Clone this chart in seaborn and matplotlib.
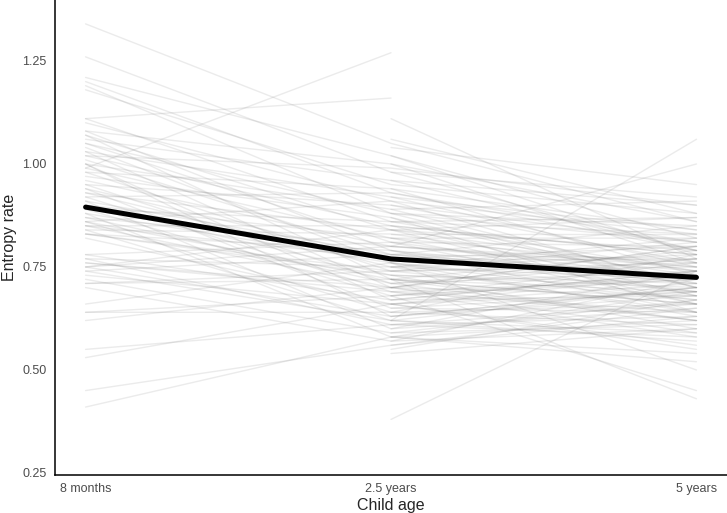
import matplotlib
matplotlib.use("Agg")
import matplotlib.pyplot as plt
import pandas as pd
import seaborn as sns

# Child age categories
age_labels = ["8 months", "2.5 years", "5 years"]

# Children seen at 8 months (and later visits), None = no visit
ent_8m_a = [1.34, 1.26, 1.21, 1.20, 1.19, 1.18, 1.11, 1.11, 1.10, 1.08,
            1.08, 1.07, 1.07, 1.06, 1.05, 1.05, 1.04, 1.03, 1.03, 1.02,
            1.02, 1.01, 1.00, 1.00, 0.99, 0.99, 0.98, 0.98, 0.97, 1.00,
            0.96, 0.95, 0.95, 0.94, 0.94, 0.93, 0.93, 0.92, 0.92, 0.91,
            0.91, 0.90, 0.90, 0.89, 0.89, 0.88, 0.88, 0.87, 0.87, 0.86,
            0.86, 0.85, 0.85, 0.84, 0.84, 0.83, 0.83, 0.82, 0.86, 0.85,
            0.83, 0.78, 0.78, 0.77, 0.77, 0.76, 0.75, 0.75, 0.74, 0.73,
            0.72, 0.71, 0.76, 0.75, 0.74, 0.71, 0.70, 0.64, 0.66, 0.64,
            0.62, 0.55, 0.53, 0.45, 0.41]
ent_2y_a = [1.05, 0.98, 1.02, 0.93, 0.88, 0.95, 1.16, 0.86, 0.91, 0.79,
            1.00, 0.84, 0.72, 0.96, 0.81, 0.88, 0.76, 0.92, 0.70, 0.85,
            0.99, 0.78, 0.89, 0.67, 1.27, 0.82, 0.74, 0.94, 0.87, 0.63,
            0.80, 0.71, 0.90, 0.77, 0.65, 0.84, 0.75, 0.69, 0.93, 0.78,
            0.60, 0.82, 0.73, 0.86, 0.68, 0.76, 0.58, 0.80, 0.71, 0.91,
            0.64, 0.77, 0.70, 0.83, 0.62, 0.74, 0.79, 0.66, 0.72, 0.85,
            0.73, 0.67, 0.81, 0.61, 0.75, 0.70, 0.84, 0.63, 0.78, 0.66,
            0.59, 0.74, 0.69, 0.80, 0.62, 0.72, 0.57, 0.68, 0.76, 0.64,
            0.70, 0.61, 0.66, 0.56, 0.58]
ent_5y_a = [0.86, 0.92, 0.78, 0.81, 0.70, 0.88, None, 0.74, 0.83, 0.69,
            0.76, 0.87, 0.66, 0.79, 0.72, 0.85, 0.63, 0.75, 0.80, 0.68,
            0.90, 0.77, 0.71, 0.74, None, 0.82, 0.67, 0.84, 0.64, 0.70,
            0.76, 0.62, 0.81, 0.73, 0.69, 0.66, 0.78, 0.58, 0.79, 0.71,
            0.65, 0.75, 0.60, 0.83, 0.72, 0.67, 0.54, 0.74, 0.77, 0.70,
            0.61, 0.80, 0.68, 0.73, 0.57, 0.76, 0.64, 0.71, 0.69, 0.78,
            0.70, 0.74, 0.66, 0.63, 0.72, 0.59, 0.79, 0.68, 0.73, 0.55,
            0.67, 0.81, 0.64, 0.75, 0.70, 0.62, 0.60, 0.73, 0.50, 0.66,
            0.77, 0.58, 0.69, 0.65, 0.62]

# Children first seen at 2.5 years
ent_2y_b = [1.11, 1.06, 1.04, 1.02, 1.00, 0.98, 0.96, 0.94, 0.92, 0.90,
            0.89, 0.88, 0.87, 0.86, 0.85, 0.84, 0.83, 0.82, 0.81, 0.80,
            0.79, 0.78, 0.77, 0.76, 0.75, 0.75, 0.74, 0.73, 0.72, 0.72,
            0.71, 0.70, 0.70, 0.69, 0.68, 0.67, 0.66, 0.65, 0.64, 0.63,
            0.62, 0.61, 0.60, 0.59, 0.58, 0.57, 0.56, 0.55, 0.54,
            0.68, 0.72, 0.66, 0.62, 0.38, 0.58]
ent_5y_b = [0.77, 0.88, 0.95, 0.82, 0.86, 0.79, 0.90, 0.73, 0.84, 0.76,
            0.91, 0.81, 0.70, 0.87, 0.78, 0.74, 0.83, 0.68, 0.80, 1.00,
            0.72, 0.85, 0.77, 0.69, 0.82, 0.64, 0.75, 0.71, 0.79, 0.66,
            0.74, 0.80, 0.62, 0.72, 0.76, 0.68, 0.73, 0.64, 0.78, 0.70,
            1.06, 0.66, 0.74, 0.61, 0.69, 0.72, 0.63, 0.67, 0.60,
            0.45, 0.43, 0.56, 0.59, 0.74, 0.52]

# long format table
rows = []
for i, vals in enumerate(zip(ent_8m_a, ent_2y_a, ent_5y_a)):
    for age, v in zip(age_labels, vals):
        if v is not None:
            rows.append({"subject": f"a{i}", "age": age, "entropy": v})
for i, vals in enumerate(zip(ent_2y_b, ent_5y_b)):
    for age, v in zip(age_labels[1:], vals):
        rows.append({"subject": f"b{i}", "age": age, "entropy": v})
df = pd.DataFrame(rows)
df["age"] = pd.Categorical(df["age"], categories=age_labels, ordered=True)
df["pos"] = df["age"].cat.codes

sns.set_style("ticks")
plt.rcParams["font.family"] = ["Liberation Sans", "DejaVu Sans"]

fig = plt.figure(figsize=(7.27, 5.13), dpi=100)
ax = fig.add_axes([0.0757, 0.074, 0.9243, 0.926])

# individual children
sns.lineplot(data=df, x="pos", y="entropy", units="subject", estimator=None,
             color="#7a7a7a", alpha=0.15, linewidth=1.0, ax=ax)
# group mean
sns.lineplot(data=df, x="pos", y="entropy", estimator="mean", errorbar=None,
             color="black", linewidth=3.6, ax=ax)

ax.set_xlim(-0.1, 2.1)
ax.set_ylim(0.245, 1.398)
ax.set_xticks(range(len(age_labels)))
ax.set_xticklabels(age_labels)
ax.set_yticks([0.25, 0.50, 0.75, 1.00, 1.25])
ax.set_yticklabels(["0.25", "0.50", "0.75", "1.00", "1.25"])
ax.tick_params(length=0, labelsize=9, labelcolor="#4d4d4d", pad=6)

ax.set_xlabel("Child age", fontsize=11.5, labelpad=2)
ax.set_ylabel("Entropy rate", fontsize=11.5, labelpad=4)

sns.despine(ax=ax)
for s in ["left", "bottom"]:
    ax.spines[s].set_color("black")
    ax.spines[s].set_linewidth(1.1)

fig.savefig("out.png", dpi=100)
